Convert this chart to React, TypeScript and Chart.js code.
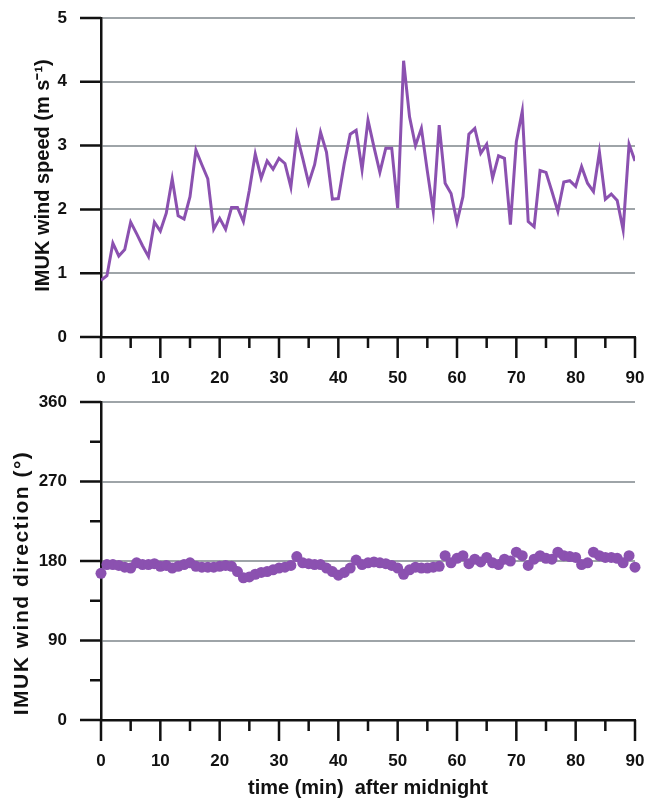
import React, { useEffect, useRef } from "react";
import { Chart, registerables } from "chart.js";

Chart.register(...registerables);

// ---------- data ----------
const minutes: number[] = Array.from({ length: 91 }, (_, i) => i);

const windSpeed: number[] = [
  0.89, 0.96, 1.47, 1.27, 1.37, 1.8, 1.62, 1.43, 1.26, 1.8,
  1.66, 1.94, 2.48, 1.9, 1.85, 2.2, 2.93, 2.7, 2.48, 1.69,
  1.86, 1.69, 2.03, 2.03, 1.81, 2.3, 2.87, 2.49, 2.76, 2.63,
  2.8, 2.72, 2.35, 3.17, 2.8, 2.41, 2.7, 3.21, 2.9, 2.16,
  2.17, 2.72, 3.18, 3.24, 2.62, 3.4, 2.98, 2.58, 2.96, 2.96,
  2.02, 4.33, 3.45, 3.0, 3.27, 2.6, 1.97, 3.32, 2.41, 2.25,
  1.8, 2.2, 3.18, 3.27, 2.88, 3.02, 2.49, 2.84, 2.8, 1.76,
  3.06, 3.54, 1.81, 1.73, 2.61, 2.58, 2.28, 1.97, 2.43, 2.45,
  2.36, 2.67, 2.41, 2.28, 2.9, 2.16, 2.24, 2.14, 1.68, 3.02,
  2.76,
];

const windDirection: number[] = [
  166, 176, 176, 175, 173, 172, 178, 176, 176, 177,
  174, 175, 172, 174, 176, 178, 174, 173, 173, 173,
  174, 175, 174, 168, 161, 162, 165, 167, 168, 170,
  172, 173, 175, 185, 178, 177, 176, 176, 172, 168,
  164, 167, 172, 181, 176, 178, 179, 178, 177, 175,
  172, 165, 170, 173, 172, 172, 173, 174, 186, 178,
  183, 186, 177, 182, 179, 184, 178, 176, 182, 180,
  190, 186, 175, 182, 186, 183, 182, 190, 186, 185,
  184, 176, 178, 190, 186, 184, 184, 183, 178, 186,
  173,
];

const timeMajorTicks: number[] = [0, 10, 20, 30, 40, 50, 60, 70, 80, 90];
const timeMinorTicks: number[] = [5, 15, 25, 35, 45, 55, 65, 75, 85];
const speedMajorTicks: number[] = [0, 1, 2, 3, 4, 5];
const speedMinorTicks: number[] = [];
const directionMajorTicks: number[] = [0, 90, 180, 270, 360];
const directionMinorTicks: number[] = [45, 135, 225, 315];

const speedTitle = "IMUK wind speed (m s\u207B\u00B9)";
const directionTitle = "IMUK wind direction (\u00B0)";
const timeTitle = "time (min)  after midnight";

// ---------- styles ----------
const PURPLE = "#8b51b0";
const AXIS = "#111111";
const GRID = "#9ea4a8";
const CLEAR = "rgba(0,0,0,0)";
const FONT_FAMILY = '"Liberation Sans", Arial, Helvetica, sans-serif';
const TICK_FONT = { family: FONT_FAMILY, size: 17, weight: "bold" as const, lineHeight: 1.2 };
const X_TITLE_FONT = `bold 20px ${FONT_FAMILY}`;

const decorPlugin = {
  id: "decor",
  afterDraw(chart: any, _args: any, opts: any) {
    const { ctx, chartArea } = chart;
    const xs = chart.scales.x;
    const ys = chart.scales.y;
    ctx.save();
    ctx.strokeStyle = AXIS;
    ctx.lineWidth = 2.5;
    ctx.lineCap = "butt";
    ctx.beginPath();
    for (const v of opts.xMajor) {
      const p = xs.getPixelForValue(v);
      ctx.moveTo(p, chartArea.bottom);
      ctx.lineTo(p, chartArea.bottom + 21);
    }
    for (const v of opts.xMinor) {
      const p = xs.getPixelForValue(v);
      ctx.moveTo(p, chartArea.bottom);
      ctx.lineTo(p, chartArea.bottom + 11);
    }
    for (const v of opts.yMajor) {
      const p = ys.getPixelForValue(v);
      ctx.moveTo(chartArea.left - 21, p);
      ctx.lineTo(chartArea.left, p);
    }
    for (const v of opts.yMinor) {
      const p = ys.getPixelForValue(v);
      ctx.moveTo(chartArea.left - 11, p);
      ctx.lineTo(chartArea.left, p);
    }
    ctx.stroke();

    ctx.fillStyle = AXIS;
    ctx.textAlign = "center";
    ctx.textBaseline = "middle";
    if (opts.yTitle) {
      ctx.save();
      ctx.font = `bold ${opts.yTitleSize}px ${FONT_FAMILY}`;
      if ("letterSpacing" in ctx) (ctx as any).letterSpacing = opts.yTitleSpacing || "0px";
      ctx.translate(opts.yTitleX, (chartArea.top + chartArea.bottom) / 2 + opts.yTitleShift);
      ctx.rotate(-Math.PI / 2);
      ctx.fillText(opts.yTitle, 0, 0);
      ctx.restore();
    }
    if (opts.xTitle) {
      ctx.font = X_TITLE_FONT;
      ctx.fillText(opts.xTitle, (chartArea.left + chartArea.right) / 2, opts.xTitleY);
    }
    ctx.restore();
  },
};

function makeScales(yMin: number, yMax: number, yTicks: number[], xHeight: number) {
  return {
    x: {
      type: "linear" as const,
      min: 0,
      max: 90,
      afterBuildTicks: (s: any) => {
        s.ticks = timeMajorTicks.map((v) => ({ value: v }));
      },
      afterFit: (s: any) => {
        s.height = xHeight;
      },
      grid: { display: false, drawTicks: true, tickLength: 31, tickColor: CLEAR },
      border: { display: true, color: AXIS, width: 2.5 },
      ticks: { padding: 0, color: AXIS, font: TICK_FONT, maxRotation: 0, autoSkip: false },
    },
    y: {
      type: "linear" as const,
      min: yMin,
      max: yMax,
      afterBuildTicks: (s: any) => {
        s.ticks = yTicks.map((v) => ({ value: v }));
      },
      afterFit: (s: any) => {
        s.width = 101;
      },
      grid: { color: GRID, lineWidth: 2, drawTicks: true, tickLength: 34, tickColor: CLEAR },
      border: { display: true, color: AXIS, width: 2.5 },
      ticks: { padding: 0, color: AXIS, font: TICK_FONT, autoSkip: false },
    },
  };
}

export default function App() {
  const topRef = useRef<HTMLCanvasElement | null>(null);
  const botRef = useRef<HTMLCanvasElement | null>(null);

  useEffect(() => {
    const top = new Chart(topRef.current as HTMLCanvasElement, {
      type: "line",
      data: {
        datasets: [
          {
            data: minutes.map((m, i) => ({ x: m, y: windSpeed[i] })),
            borderColor: PURPLE,
            borderWidth: 3,
            pointRadius: 0,
            tension: 0,
            fill: false,
          },
        ],
      },
      options: {
        responsive: false,
        animation: false,
        events: [],
        layout: { padding: { top: 18, right: 11, left: 0, bottom: 0 } },
        plugins: {
          legend: { display: false },
          tooltip: { enabled: false },
          decor: {
            xMajor: timeMajorTicks,
            xMinor: timeMinorTicks,
            yMajor: speedMajorTicks,
            yMinor: speedMinorTicks,
            yTitle: speedTitle,
            yTitleX: 43,
            yTitleShift: -2,
            yTitleSize: 20,
            yTitleSpacing: "0px",
          },
        } as any,
        scales: makeScales(0, 5, speedMajorTicks, 53),
      },
      plugins: [decorPlugin],
    });

    const bottom = new Chart(botRef.current as HTMLCanvasElement, {
      type: "scatter",
      data: {
        datasets: [
          {
            data: minutes.map((m, i) => ({ x: m, y: windDirection[i] })),
            backgroundColor: PURPLE,
            borderColor: PURPLE,
            borderWidth: 0,
            pointRadius: 5.5,
            clip: false as any,
          },
        ],
      },
      options: {
        responsive: false,
        animation: false,
        events: [],
        layout: { padding: { top: 12, right: 11, left: 0, bottom: 0 } },
        plugins: {
          legend: { display: false },
          tooltip: { enabled: false },
          decor: {
            xMajor: timeMajorTicks,
            xMinor: timeMinorTicks,
            yMajor: directionMajorTicks,
            yMinor: directionMinorTicks,
            yTitle: directionTitle,
            yTitleX: 22,
            yTitleShift: 22,
            yTitleSize: 21,
            yTitleSpacing: "1.5px",
            xTitle: timeTitle,
            xTitleY: 398,
          },
        } as any,
        scales: makeScales(0, 360, directionMajorTicks, 80),
      },
      plugins: [decorPlugin],
    });

    return () => {
      top.destroy();
      bottom.destroy();
    };
  }, []);

  return (
    <div style={{ position: "absolute", left: 0, top: 0, width: 646, height: 800, background: "#fff" }}>
      <canvas ref={topRef} width={646} height={390} style={{ display: "block", width: 646, height: 390 }} />
      <canvas ref={botRef} width={646} height={410} style={{ display: "block", width: 646, height: 410 }} />
    </div>
  );
}
